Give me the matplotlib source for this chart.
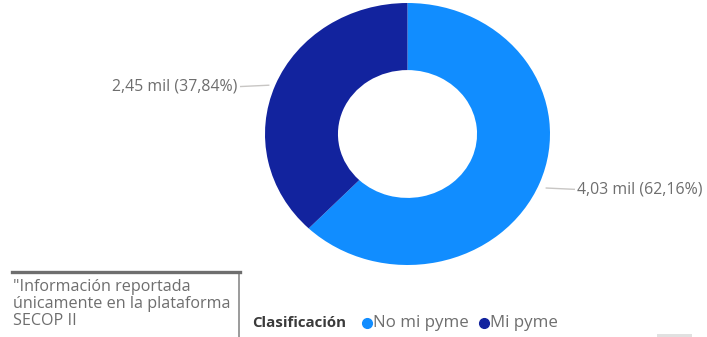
import numpy as np
import matplotlib.pyplot as plt
from matplotlib.patches import Rectangle

categorias = ['No mi pyme', 'Mi pyme']
valores = [4.03, 2.45]          # miles
porcentajes = [62.16, 37.84]
etiquetas = ['4,03 mil (62,16%)', '2,45 mil (37,84%)']
colores = ['#118DFF', '#12239E']
nota = '"Información reportada\núnicamente en la plataforma\nSECOP II'

plt.rcParams['font.family'] = ['Open Sans', 'DejaVu Sans']

W, H = 707, 337
fig = plt.figure(figsize=(W / 100, H / 100), dpi=100)

# fondo en pixeles
ax = fig.add_axes([0, 0, 1, 1])
ax.set_xlim(0, W)
ax.set_ylim(H, 0)
ax.axis('off')

# dona (la imagen original esta un poco estirada en horizontal)
x0p, x1p, y0p, y1p = 265, 550, 3, 265
axp = fig.add_axes([x0p / W, 1 - y1p / H, (x1p - x0p) / W, (y1p - y0p) / H])
wedges, _ = axp.pie(valores, colors=colores, startangle=90, counterclock=False,
                    radius=1, frame=True,
                    wedgeprops=dict(width=0.512, linewidth=0))
axp.set_xlim(-1, 1)
axp.set_ylim(-1, 1)
axp.set_aspect('auto')
axp.axis('off')

gris = '#6E6E6E'
sx = 2 / (x1p - x0p)   # unidades por pixel en x
for w, lab in zip(wedges, etiquetas):
    ang = np.deg2rad((w.theta1 + w.theta2) / 2)
    xa = 1.05 * np.cos(ang)
    ya = 1.05 * np.sin(ang) - 0.02
    lado = 1 if np.cos(ang) > 0 else -1
    xb = xa + lado * 28 * sx
    axp.plot([xa, xb], [ya, ya - 0.01], color='#C8C6C4', lw=1, clip_on=False)
    axp.text(xb + lado * 3 * sx, ya - 0.01, lab,
             ha='left' if lado > 0 else 'right', va='center',
             fontsize=11.4, color=gris)

# cuadro de nota
ax.plot([239, 239], [272, H + 2], color='#8A8A8A', lw=1.2)
ax.plot([12, 240], [272, 272], color='#6E6E6E', lw=2.4)
ax.text(13, 279, nota, ha='left', va='top', fontsize=11.6, color=gris,
        linespacing=1.1)

# leyenda
ly = 323
ax.text(252, ly, 'Clasificación', ha='left', va='center', fontsize=10.8,
        fontweight='bold', color='#3A3A3A')
for cat, col, xc in zip(categorias, colores, [367, 484]):
    ax.plot(xc, ly, 'o', color=col, ms=7)
    ax.text(xc + 6, ly, cat, ha='left', va='center', fontsize=12.2, color=gris)

ax.add_patch(Rectangle((657, 334), 35, 3, color='#E1E1E1', lw=0))

fig.savefig('out.png', dpi=100, facecolor='white')
